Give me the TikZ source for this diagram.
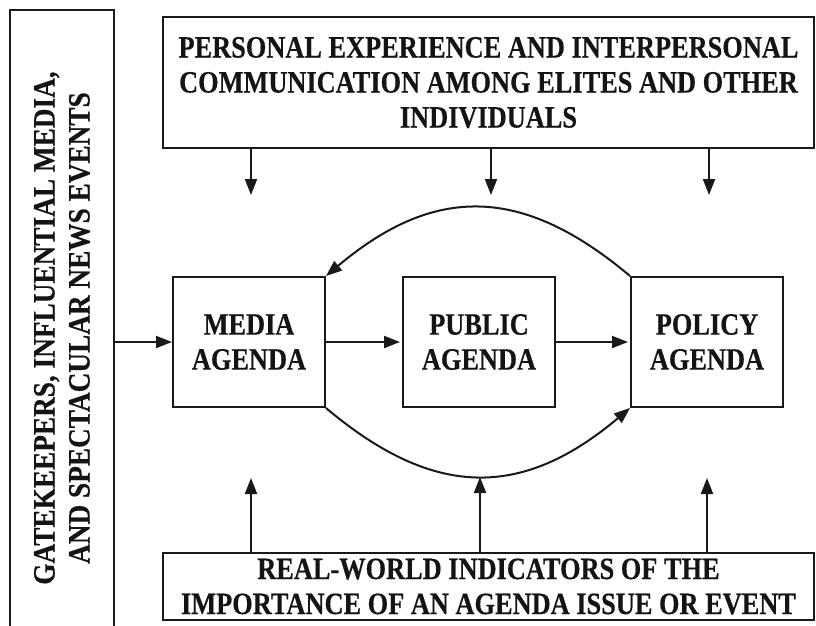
\documentclass[tikz,border=0pt]{standalone}
\usepackage{fontspec}
\newfontfamily\labfont[FakeStretch=0.85,FakeBold=0.4]{Liberation Serif}
\newfontfamily\sidefont[FakeStretch=0.88,FakeBold=0.4]{Liberation Serif}
\usetikzlibrary{arrows.meta}
\tikzset{
  box/.style={draw=black!90, line width=2pt, inner sep=0pt, align=center,
    font=\labfont\bfseries\fontsize{31}{35}\selectfont, text=black!92},
  agenda/.style={box, minimum width=152pt, minimum height=130pt},
  arr/.style={line width=2pt, draw=black!90, -{Triangle[length=16pt,width=12pt]}}
}
\begin{document}
\begin{tikzpicture}[x=1pt,y=-1pt]
\useasboundingbox[fill=white] (0,0) rectangle (816,625);
% outer boxes
\node[box, rotate=90, minimum width=636pt, minimum height=104pt,
  font=\sidefont\bfseries\fontsize{31}{35}\selectfont] (gate) at (62,328)
  {GATEKEEPERS, INFLUENTIAL MEDIA,\\AND SPECTACULAR NEWS EVENTS};
\node[box, minimum width=651pt, minimum height=131pt] (pers) at (488.5,82.5)
  {PERSONAL EXPERIENCE AND INTERPERSONAL\\COMMUNICATION AMONG ELITES AND OTHER\\INDIVIDUALS};
\node[box, minimum width=651pt, minimum height=67pt] (real) at (488.5,586.5)
  {REAL-WORLD INDICATORS OF THE\\IMPORTANCE OF AN AGENDA ISSUE OR EVENT};
% agenda boxes
\node[agenda] (media) at (249,342) {MEDIA\\AGENDA};
\node[agenda] (public) at (479,342) {PUBLIC\\AGENDA};
\node[agenda] (policy) at (707,342) {POLICY\\AGENDA};
% horizontal arrows
\draw[arr] (gate.south |- media.west) -- (media.west);
\draw[arr, shorten >=2pt] (media.east) -- (public.west);
\draw[arr, shorten >=2pt] (public.east) -- (policy.west);
% arcs
\draw[arr] (policy.north west) .. controls +(-108,-91) and +(108,-91) .. (media.north east);
\draw[arr] (media.south east) .. controls +(108,91) and +(-108,91) .. (policy.south west);
% top arrows
\coordinate (t1) at (251,195);
\coordinate (t2) at (491,195);
\coordinate (t3) at (709,195);
\foreach \c in {t1,t2,t3} \draw[arr] (pers.south -| \c) -- (\c);
% bottom arrows
\coordinate (b1) at (251,478);
\coordinate (b2) at (480,477);
\coordinate (b3) at (707,478);
\foreach \c in {b1,b2,b3} \draw[arr] (real.north -| \c) -- (\c);
\end{tikzpicture}
\end{document}
